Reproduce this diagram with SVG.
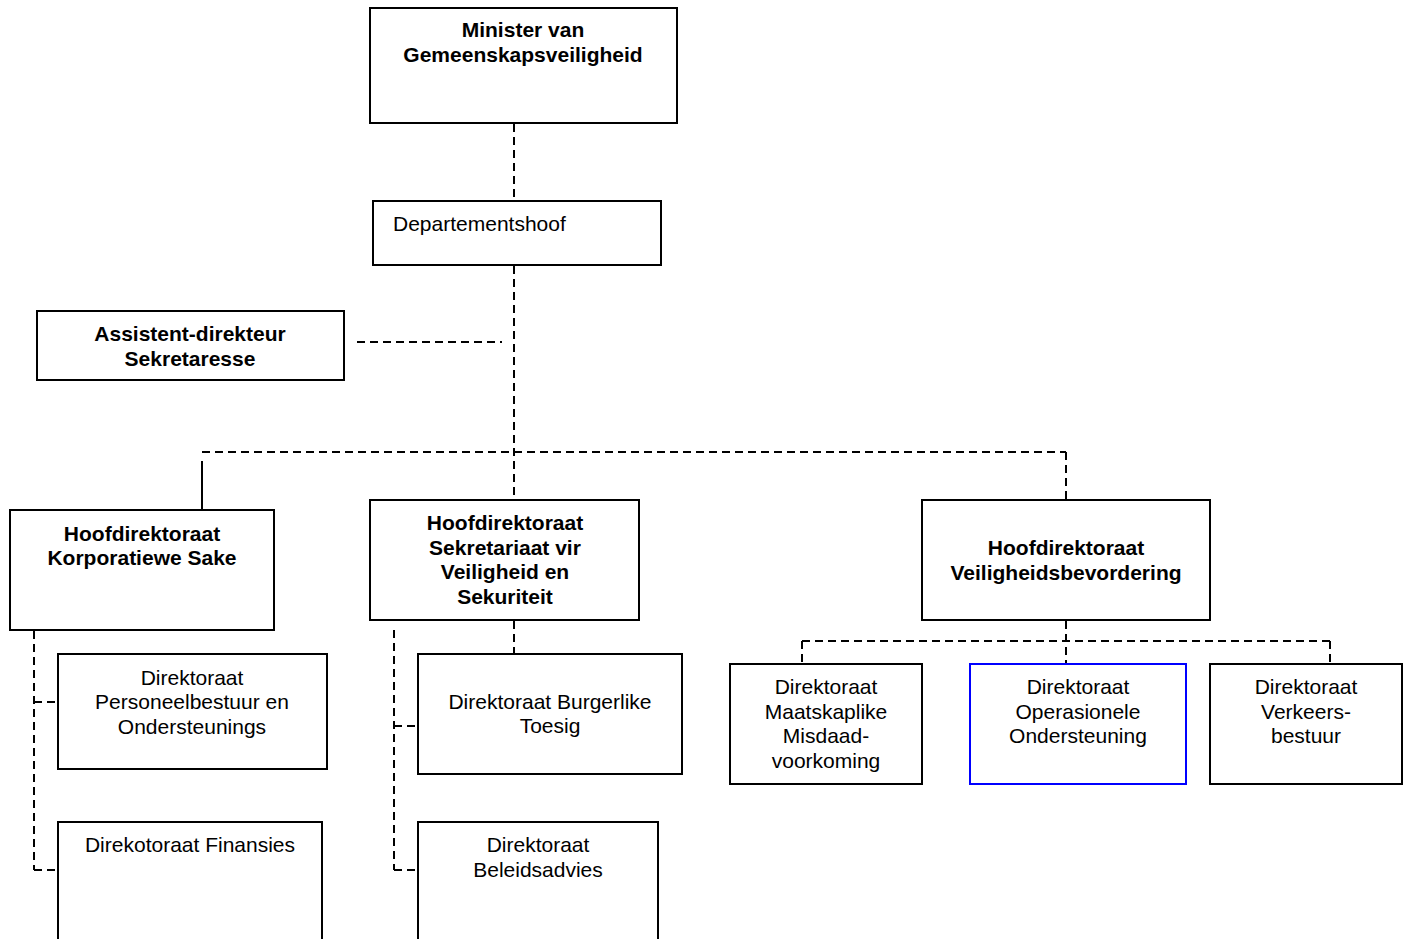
<svg xmlns="http://www.w3.org/2000/svg" width="1412" height="939" viewBox="0 0 1412 939">
<style>
.box{fill:#fff;stroke:#000;stroke-width:2}
.blue{fill:#fff;stroke:#0000ff;stroke-width:2}
.t{font-family:"Liberation Sans",Arial,sans-serif;font-size:21px;fill:#000;text-anchor:middle}
.b{font-weight:bold}
.l{text-anchor:start}
.d{fill:none;stroke:#000;stroke-width:2;stroke-dasharray:8,5}
.s{fill:none;stroke:#000;stroke-width:2}
</style>
<rect width="1412" height="939" fill="#fff"/>
<g id="connectors">
<path class="d" d="M514 124V201M514 266V500M357 342H502M202 452H1066M1066 452V500"/>
<path class="s" d="M202 461V510"/>
<path class="d" d="M34 631V870M34 702H58M34 870H58"/>
<path class="d" d="M394 630V870M394 726H418M394 870H418"/>
<path class="d" d="M514 621V665"/>
<path class="d" d="M1066 621V664M802 641H1330M802 641V663M1330 641V663"/>
</g>
<g id="minister"><rect class="box" x="370" y="8" width="307" height="115"/>
<text class="t b" x="523" y="37">Minister van</text><text class="t b" x="523" y="62">Gemeenskapsveiligheid</text></g>
<g id="departementshoof"><rect class="box" x="373" y="201" width="288" height="64"/>
<text class="t l" x="393" y="231">Departementshoof</text></g>
<g id="assistent"><rect class="box" x="37" y="311" width="307" height="69"/>
<text class="t b" x="190" y="341">Assistent-direkteur</text><text class="t b" x="190" y="366">Sekretaresse</text></g>
<g id="korporatiewe"><rect class="box" x="10" y="510" width="264" height="120"/>
<text class="t b" x="142" y="541">Hoofdirektoraat</text><text class="t b" x="142" y="565">Korporatiewe Sake</text></g>
<g id="sekretariaat"><rect class="box" x="370" y="500" width="269" height="120"/>
<text class="t b" x="505" y="530">Hoofdirektoraat</text><text class="t b" x="505" y="555">Sekretariaat vir</text><text class="t b" x="505" y="579">Veiligheid en</text><text class="t b" x="505" y="604">Sekuriteit</text></g>
<g id="veiligheidsbevordering"><rect class="box" x="922" y="500" width="288" height="120"/>
<text class="t b" x="1066" y="555">Hoofdirektoraat</text><text class="t b" x="1066" y="580">Veiligheidsbevordering</text></g>
<g id="personeel"><rect class="box" x="58" y="654" width="269" height="115"/>
<text class="t" x="192" y="685">Direktoraat</text><text class="t" x="192" y="709">Personeelbestuur en</text><text class="t" x="192" y="734">Ondersteunings</text></g>
<g id="finansies"><rect class="box" x="58" y="822" width="264" height="130"/>
<text class="t" x="190" y="852">Direkotoraat Finansies</text></g>
<g id="burgerlike"><rect class="box" x="418" y="654" width="264" height="120"/>
<text class="t" x="550" y="709">Direktoraat Burgerlike</text><text class="t" x="550" y="733">Toesig</text></g>
<g id="beleidsadvies"><rect class="box" x="418" y="822" width="240" height="130"/>
<text class="t" x="538" y="852">Direktoraat</text><text class="t" x="538" y="877">Beleidsadvies</text></g>
<g id="maatskaplike"><rect class="box" x="730" y="664" width="192" height="120"/>
<text class="t" x="826" y="694">Direktoraat</text><text class="t" x="826" y="719">Maatskaplike</text><text class="t" x="826" y="743">Misdaad-</text><text class="t" x="826" y="768">voorkoming</text></g>
<g id="operasionele"><rect class="blue" x="970" y="664" width="216" height="120"/>
<text class="t" x="1078" y="694">Direktoraat</text><text class="t" x="1078" y="719">Operasionele</text><text class="t" x="1078" y="743">Ondersteuning</text></g>
<g id="verkeers"><rect class="box" x="1210" y="664" width="192" height="120"/>
<text class="t" x="1306" y="694">Direktoraat</text><text class="t" x="1306" y="719">Verkeers-</text><text class="t" x="1306" y="743">bestuur</text></g>
</svg>
